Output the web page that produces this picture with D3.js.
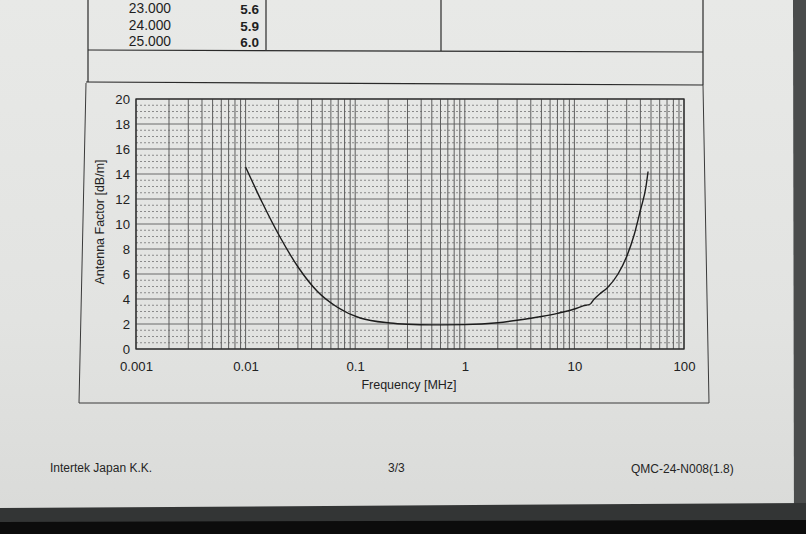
<!DOCTYPE html>
<html><head><meta charset="utf-8">
<script src="https://cdn.jsdelivr.net/npm/d3@7"></script>
<style>html,body{margin:0;padding:0;background:#e3e4e2;}svg{display:block;font-family:"Liberation Sans",Arial,sans-serif;}</style>
</head><body>
<script>
// ---- data ----
const freqMHz = [0.01,0.0141,0.0206,0.0301,0.0448,0.0682,0.111,0.208,0.3,0.5,1,2,3,5,7,10,12,14,15,17,20,25,30,35,40,45,47];
const antennaFactor = [14.56,11.76,8.96,6.56,4.64,3.36,2.48,2.08,1.98,1.93,1.95,2.1,2.3,2.6,2.85,3.2,3.45,3.6,3.95,4.4,4.9,6.0,7.4,9.1,11.1,13.0,14.2];
const xTickValues = [0.001,0.01,0.1,1,10,100];
const xTickLabels = ["0.001","0.01","0.1","1","10","100"];
const yTickValues = [0,2,4,6,8,10,12,14,16,18,20];
const tableFreq = ["23.000","24.000","25.000"];
const tableVal = ["5.6","5.9","6.0"];
const footer = ["Intertek Japan K.K.","3/3","QMC-24-N008(1.8)"];

const W=806,H=534;
const svg=d3.select("body").append("svg").attr("width",W).attr("height",H);
const defs=svg.append("defs");
const g1=defs.append("linearGradient").attr("id","paper").attr("x1",0).attr("y1",0).attr("x2",0).attr("y2",1);
g1.append("stop").attr("offset","0").attr("stop-color","#e8e9e7");
g1.append("stop").attr("offset","0.6").attr("stop-color","#e2e3e1");
g1.append("stop").attr("offset","1").attr("stop-color","#d9dad8");
svg.append("rect").attr("width",W).attr("height",H).attr("fill","url(#paper)");
// right and bottom dark bands
svg.append("path").attr("d","M793,0 L806,0 L806,534 L794,534 Z").attr("fill","#4a4c4c");
svg.append("path").attr("d","M0,508 L806,503 L806,534 L0,534 Z").attr("fill","#333535");
svg.append("path").attr("d","M0,522 L806,520 L806,534 L0,534 Z").attr("fill","#0c0c0c");

// table
const ln=(x1,y1,x2,y2,w)=>svg.append("line").attr("x1",x1).attr("y1",y1).attr("x2",x2).attr("y2",y2).attr("stroke","#2a2a2a").attr("stroke-width",w||1.2);
ln(88,0,88,82); ln(703,0,703,85); ln(266,0,266,50); ln(441,0,441,51);
ln(88,50,703,52); ln(86,82,703,85);
tableFreq.forEach((t,i)=>{
  svg.append("text").attr("x",171).attr("y",13+i*16.5).attr("text-anchor","end").attr("font-size",13.8).attr("fill","#1e1e1e").text(t);
  svg.append("text").attr("x",259).attr("y",14+i*16.5).attr("text-anchor","end").attr("font-size",13.5).attr("font-weight","bold").attr("fill","#1e1e1e").text(tableVal[i]);
});
// chart box
svg.append("path").attr("d","M86,83 L79,403 L709,403 L703,85").attr("fill","none").attr("stroke","#3a3a3a").attr("stroke-width",1);

// plot
const L=136,R=684,T=99,B=349;
const x=d3.scaleLog().domain([0.001,100]).range([L,R]);
const y=d3.scaleLinear().domain([0,20]).range([B,T]);
const grid=svg.append("g");
// dotted minor horizontals
d3.range(0.5,20,0.5).filter(v=>v%2!==0).forEach(v=>{
  grid.append("line").attr("x1",L).attr("x2",R).attr("y1",y(v)).attr("y2",y(v))
    .attr("stroke","#8a8a8a").attr("stroke-width",1).attr("stroke-dasharray","2,2");
});
// major horizontals
yTickValues.forEach(v=>{
  grid.append("line").attr("x1",L).attr("x2",R).attr("y1",y(v)).attr("y2",y(v)).attr("stroke","#6a6a6a").attr("stroke-width",1);
});
// verticals
const vticks=[];
for(let d=-3;d<2;d++){for(let k=1;k<10;k++)vticks.push(k*Math.pow(10,d));}
vticks.push(100);
vticks.forEach(v=>{
  grid.append("line").attr("x1",x(v)).attr("x2",x(v)).attr("y1",T).attr("y2",B).attr("stroke","#5e5e5e").attr("stroke-width",1);
});
svg.append("rect").attr("x",L).attr("y",T).attr("width",R-L).attr("height",B-T).attr("fill","none").attr("stroke","#2a2a2a").attr("stroke-width",1.3);

// axes labels
const xa=d3.axisBottom(x).tickValues(xTickValues).tickFormat((d,i)=>xTickLabels[i]).tickSize(0).tickPadding(13);
const gx=svg.append("g").attr("transform",`translate(0,${B})`).call(xa);
gx.select(".domain").remove();
gx.selectAll("text").attr("font-size",13.2).attr("fill","#222").attr("font-family","Liberation Sans, Arial, sans-serif");
const ya=d3.axisLeft(y).tickValues(yTickValues).tickSize(0).tickPadding(6);
const gy=svg.append("g").attr("transform",`translate(${L},0)`).call(ya);
gy.select(".domain").remove();
gy.selectAll("text").attr("font-size",13.2).attr("fill","#222").attr("font-family","Liberation Sans, Arial, sans-serif");

svg.append("text").attr("x",409).attr("y",389).attr("text-anchor","middle").attr("font-size",12.5).attr("fill","#222").text("Frequency [MHz]");
svg.append("text").attr("transform","translate(104,222) rotate(-90)").attr("text-anchor","middle").attr("font-size",12.5).attr("fill","#222").text("Antenna Factor [dB/m]");

// curve
const line=d3.line().x((d,i)=>x(freqMHz[i])).y(d=>y(d)).curve(d3.curveMonotoneX);
svg.append("path").attr("d",line(antennaFactor)).attr("fill","none").attr("stroke","#1c1c1c").attr("stroke-width",1.4);

// footer
svg.append("text").attr("x",50).attr("y",472).attr("font-size",12).attr("fill","#252525").text(footer[0]);
svg.append("text").attr("x",388).attr("y",472).attr("font-size",12).attr("fill","#252525").text(footer[1]);
svg.append("text").attr("x",631).attr("y",473).attr("font-size",12).attr("fill","#252525").text(footer[2]);
</script>
</body></html>
